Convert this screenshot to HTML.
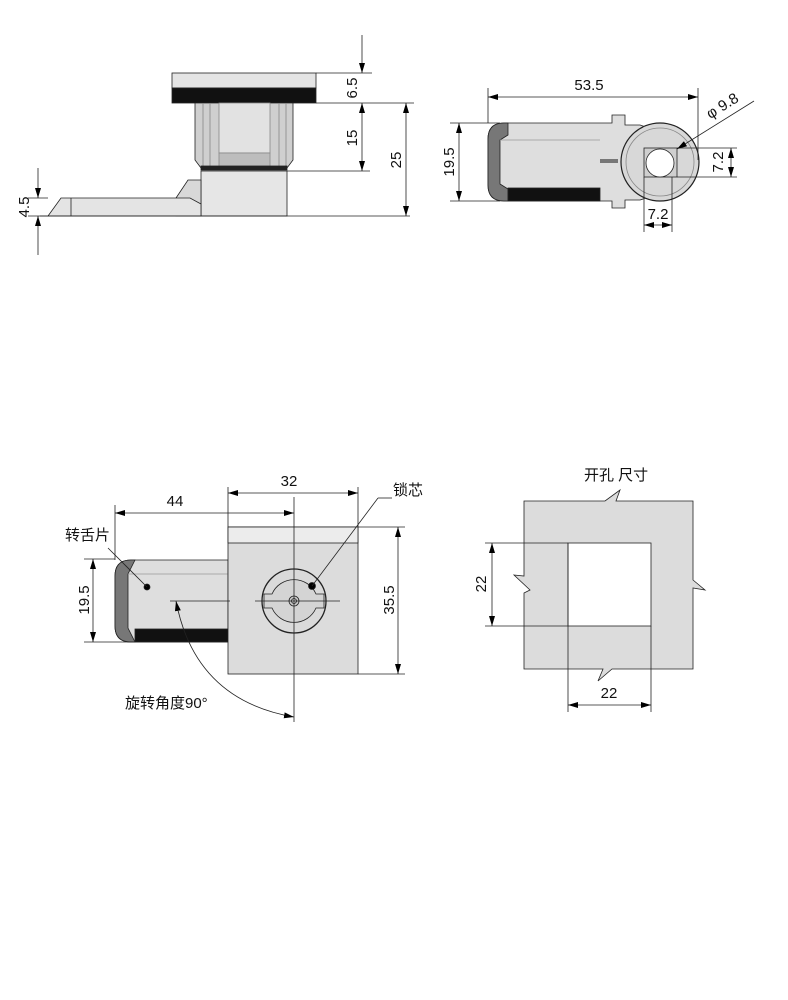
<!DOCTYPE html>
<html><head><meta charset="utf-8"><style>
html,body{margin:0;padding:0;background:#fff}
svg{display:block}
text{font-family:"Liberation Sans","Noto Sans CJK SC",sans-serif;fill:#111}
</style></head><body>
<svg width="788" height="1000" viewBox="0 0 788 1000" xmlns="http://www.w3.org/2000/svg">
<defs>
<marker id="a" viewBox="0 0 10 6" refX="10" refY="3" markerWidth="10" markerHeight="6" orient="auto-start-reverse" markerUnits="userSpaceOnUse"><path d="M0,0L10,3L0,6z" fill="#000"/></marker>
</defs>
<g stroke="#222" stroke-width="0.8" fill="none">
<rect x="172" y="73" width="144" height="15" fill="#e4e4e4"/>
<rect x="172" y="88" width="144" height="15" fill="#111"/>
<path d="M195,103 L293,103 L293,160 L287,168 L201,168 L195,160 Z" fill="#cfcfcf"/>
<rect x="219" y="103" width="51" height="50" fill="#e2e2e2" stroke="#888"/>
<rect x="219" y="153" width="51" height="15" fill="#bdbdbd" stroke="#888"/>
<line x1="203" y1="103" x2="203" y2="168" stroke="#888"/>
<line x1="210" y1="103" x2="210" y2="168" stroke="#888"/>
<line x1="279" y1="103" x2="279" y2="168" stroke="#888"/>
<line x1="286" y1="103" x2="286" y2="168" stroke="#888"/>
<rect x="201" y="166" width="86" height="4" fill="#222"/>
<rect x="201" y="171" width="86" height="45" fill="#e6e6e6"/>
<path d="M176,198 L188,180 L201,180 L201,216 L176,216 Z" fill="#d8d8d8"/>
<path d="M48,216 L61,198 L190,198 L201,204 L201,216 Z" fill="#e4e4e4"/>
<line x1="71" y1="198" x2="71" y2="216"/>
<line x1="40" y1="216" x2="410" y2="216"/>
<line x1="316" y1="73" x2="372" y2="73"/>
<line x1="316" y1="103" x2="414" y2="103"/>
<line x1="287" y1="171" x2="370" y2="171"/>
<line x1="362" y1="35" x2="362" y2="73" marker-end="url(#a)"/>
<line x1="362" y1="103" x2="362" y2="171" marker-start="url(#a)" marker-end="url(#a)"/>
<line x1="406" y1="103" x2="406" y2="216" marker-start="url(#a)" marker-end="url(#a)"/>
<line x1="28" y1="198" x2="48" y2="198"/>
<line x1="28" y1="216" x2="48" y2="216"/>
<line x1="38" y1="168" x2="38" y2="198" marker-end="url(#a)"/>
<line x1="38" y1="216" x2="38" y2="255" marker-start="url(#a)"/>

<path d="M504,123 L612,123 L612,115 L625,115 L625,125 L640,125 A39,39 0 0 1 640,200 L625,200 L625,208 L612,208 L612,201 L504,201 Q488,201 488,185 L488,139 Q488,123 504,123 Z" fill="#dedede"/>
<path d="M488,139 Q488,123 504,123 L508,123 L508,135 L500,140 L500,184 L508,189 L508,201 L504,201 Q488,201 488,185 Z" fill="#777"/>
<rect x="508" y="188" width="92" height="13" fill="#111"/>
<line x1="500" y1="140" x2="600" y2="140" stroke="#999"/>
<circle cx="660" cy="162" r="39" fill="#d8d8d8" stroke-width="1.2"/>
<circle cx="660" cy="162" r="34" fill="none" stroke="#888"/>
<rect x="644" y="148" width="33" height="29" fill="#cfcfcf"/>
<circle cx="660" cy="163" r="14" fill="#fff"/>
<rect x="600" y="159" width="18" height="4" fill="#777" stroke="none"/>
<line x1="488" y1="88" x2="488" y2="123"/>
<line x1="698" y1="88" x2="698" y2="160"/>
<line x1="488" y1="97" x2="698" y2="97" marker-start="url(#a)" marker-end="url(#a)"/>
<line x1="450" y1="123" x2="500" y2="123"/>
<line x1="450" y1="201" x2="500" y2="201"/>
<line x1="459" y1="123" x2="459" y2="201" marker-start="url(#a)" marker-end="url(#a)"/>
<line x1="677" y1="148" x2="737" y2="148"/>
<line x1="677" y1="177" x2="737" y2="177"/>
<line x1="731" y1="148" x2="731" y2="177" marker-start="url(#a)" marker-end="url(#a)"/>
<line x1="644" y1="177" x2="644" y2="232"/>
<line x1="672" y1="177" x2="672" y2="232"/>
<line x1="644" y1="225" x2="672" y2="225" marker-start="url(#a)" marker-end="url(#a)"/>
<line x1="754" y1="101" x2="677" y2="149" marker-end="url(#a)"/>

<path d="M131,560 L228,560 L228,642 L131,642 Q115,642 115,626 L115,576 Q115,560 131,560 Z" fill="#dedede"/>
<path d="M115,576 Q115,560 131,560 L135,560 L128,574 L128,628 L135,642 L131,642 Q115,642 115,626 Z" fill="#777"/>
<rect x="135" y="629" width="93" height="13" fill="#111"/>
<line x1="128" y1="574" x2="228" y2="574" stroke="#999"/>
<rect x="228" y="527" width="130" height="147" fill="#dcdcdc"/>
<rect x="228" y="527" width="130" height="16" fill="#ececec"/>
<circle cx="294" cy="601" r="32" fill="#dadada" stroke-width="1.3"/>
<path d="M264,594 L272,594 A24,24 0 0 1 316,594 L324,594 L324,608 L316,608 A24,24 0 0 1 272,608 L264,608 Z" fill="#d4d4d4"/>
<circle cx="294" cy="601" r="5" fill="#ccc"/>
<circle cx="294" cy="601" r="2.5"/>
<line x1="294" y1="497" x2="294" y2="722"/>
<line x1="255" y1="601" x2="340" y2="601"/>
<line x1="170" y1="601" x2="230" y2="601"/>
<circle cx="147" cy="587" r="3" fill="#000"/>
<circle cx="312" cy="586" r="3.5" fill="#000"/>
<line x1="108" y1="548" x2="147" y2="587"/>
<line x1="392" y1="498" x2="378" y2="498"/>
<line x1="378" y1="498" x2="312" y2="586"/>
<line x1="115" y1="505" x2="115" y2="560"/>
<line x1="115" y1="513" x2="294" y2="513" marker-start="url(#a)" marker-end="url(#a)"/>
<line x1="228" y1="487" x2="228" y2="527"/>
<line x1="358" y1="487" x2="358" y2="527"/>
<line x1="228" y1="493" x2="358" y2="493" marker-start="url(#a)" marker-end="url(#a)"/>
<line x1="358" y1="527" x2="405" y2="527"/>
<line x1="358" y1="674" x2="405" y2="674"/>
<line x1="398" y1="527" x2="398" y2="674" marker-start="url(#a)" marker-end="url(#a)"/>
<line x1="84" y1="559" x2="115" y2="559"/>
<line x1="84" y1="642" x2="135" y2="642"/>
<line x1="93" y1="559" x2="93" y2="642" marker-start="url(#a)" marker-end="url(#a)"/>
<path d="M176,601 Q195,700 294,717" marker-start="url(#a)" marker-end="url(#a)"/>

<path d="M524,501 L605,501 L620,490 L616,501 L693,501 L693,580 L705,590 L693,588 L693,669 L612,669 L598,681 L603,669 L524,669 L524,593 L530,590 L514,575 L524,576 Z" fill="#dcdcdc"/>
<rect x="568" y="543" width="83" height="83" fill="#fff"/>
<line x1="568" y1="543" x2="568" y2="712"/>
<line x1="651" y1="626" x2="651" y2="712"/>
<line x1="485" y1="543" x2="568" y2="543"/>
<line x1="485" y1="626" x2="568" y2="626"/>
<line x1="568" y1="705" x2="651" y2="705" marker-start="url(#a)" marker-end="url(#a)"/>
<line x1="492" y1="543" x2="492" y2="626" marker-start="url(#a)" marker-end="url(#a)"/>
</g>
<g font-size="15">
<text x="352" y="88" transform="rotate(-90 352 88)" text-anchor="middle" dy="5">6.5</text>
<text x="352" y="138" transform="rotate(-90 352 138)" text-anchor="middle" dy="5">15</text>
<text x="396" y="160" transform="rotate(-90 396 160)" text-anchor="middle" dy="5">25</text>
<text x="24" y="207" transform="rotate(-90 24 207)" text-anchor="middle" dy="5">4.5</text>
<text x="589" y="90" text-anchor="middle">53.5</text>
<text x="449" y="162" transform="rotate(-90 449 162)" text-anchor="middle" dy="5">19.5</text>
<text x="718" y="162" transform="rotate(-90 718 162)" text-anchor="middle" dy="5">7.2</text>
<text x="658" y="219" text-anchor="middle">7.2</text>
<text x="725" y="110" transform="rotate(-32 725 110)" text-anchor="middle">φ 9.8</text>
<text x="175" y="506" text-anchor="middle">44</text>
<text x="289" y="486" text-anchor="middle">32</text>
<text x="389" y="600" transform="rotate(-90 389 600)" text-anchor="middle" dy="5">35.5</text>
<text x="84" y="600" transform="rotate(-90 84 600)" text-anchor="middle" dy="5">19.5</text>
<text x="65" y="540">转舌片</text>
<text x="393" y="495">锁芯</text>
<text x="125" y="708">旋转角度90°</text>
<text x="584" y="480">开孔 尺寸</text>
<text x="609" y="698" text-anchor="middle">22</text>
<text x="481" y="584" transform="rotate(-90 481 584)" text-anchor="middle" dy="5">22</text>
</g>
</svg>
</body></html>
